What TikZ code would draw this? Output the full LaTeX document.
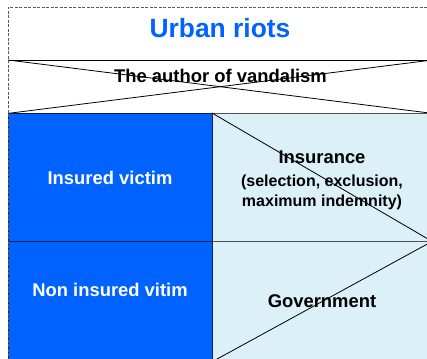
\documentclass[tikz,border=0pt]{standalone}
\usepackage{fontspec}
\setmainfont{Liberation Sans}
\definecolor{riotblue}{RGB}{0,98,255}
\definecolor{paleblue}{RGB}{219,240,247}
\definecolor{navyline}{RGB}{16,32,72}
\definecolor{greyline}{RGB}{80,80,80}
\definecolor{dashgrey}{RGB}{90,90,90}
\tikzset{
  bluecell/.style={rectangle, draw=navyline, fill=riotblue, line width=0.8pt, inner sep=0pt, anchor=north west},
  palecell/.style={rectangle, draw=greyline, fill=paleblue, line width=0.8pt, inner sep=0pt, anchor=north west},
  bandcell/.style={rectangle, draw=none, fill=white, inner sep=0pt, anchor=north west},
  diag/.style={draw=black, line width=0.8pt},
  bigtxt/.style={inner sep=0pt, anchor=base, font=\fontsize{18.4}{22}\selectfont\bfseries},
  smalltxt/.style={inner sep=0pt, anchor=base, font=\fontsize{16}{19}\selectfont\bfseries},
  titletxt/.style={inner sep=0pt, anchor=base, text=riotblue, font=\fontsize{26.4}{30}\selectfont\bfseries},
}
\begin{document}
\begin{tikzpicture}[x=1pt,y=1pt]
\useasboundingbox (0,0) rectangle (427,-358);
\clip (0,0) rectangle (427,-358);
\fill[white] (0,0) rectangle (427,-358);
% band with crossed lines
\node[bandcell, minimum width=424pt, minimum height=53pt] (band) at (8,-60) {};
\draw[diag] (band.north west) -- (band.north east);
\draw[diag] (band.north west) -- (band.south east);
\draw[diag] (band.south west) -- (band.north east);
% cells
\node[palecell, minimum width=220pt, minimum height=128pt] (insc) at (212,-113) {};
\node[palecell, minimum width=220pt, minimum height=120pt] (govc) at (212,-241) {};
\node[bluecell, minimum width=204pt, minimum height=128pt] (ivc) at (8,-113) {};
\node[bluecell, minimum width=204pt, minimum height=120pt] (nivc) at (8,-241) {};
\draw[diag] (insc.north west) -- (insc.south east);
\draw[diag] (govc.south west) -- (govc.north east);
% texts
\node[titletxt] (title) at (220,-38) {Urban riots};
\node[bigtxt] (author) at (220.5,-82.3) {The author of vandalism};
\node[bigtxt, text=white] (iv) at (110,-184) {Insured victim};
\node[bigtxt, text=white] (niv) at (110,-296.7) {Non insured vitim};
\node[bigtxt] (ins1) at (322,-163.3) {Insurance};
\node[smalltxt] (ins2) at (322,-186.7) {(selection, exclusion,};
\node[smalltxt] (ins3) at (322,-206) {maximum indemnity)};
\node[bigtxt] (gov) at (322,-307.7) {Government};
% outer dashed frame on top
\draw[dashgrey, line width=0.8pt, dash pattern=on 3pt off 1.5pt] (8,-365) -- (8,-7) -- (440,-7);
\end{tikzpicture}
\end{document}
